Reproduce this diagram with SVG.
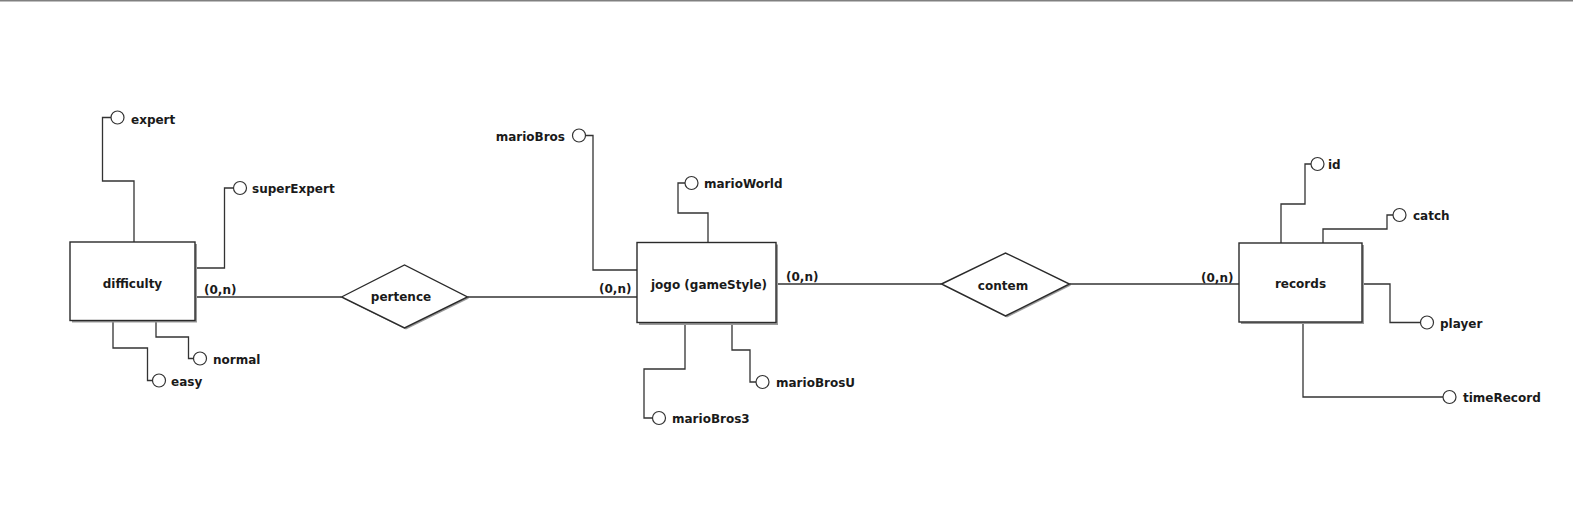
<svg xmlns="http://www.w3.org/2000/svg" width="1573" height="517" viewBox="0 0 1573 517">
<style>
.bg{fill:#ffffff}
.ln{fill:none;stroke:#333333;stroke-width:1.3}
.ent{fill:#ffffff;stroke:#2a2a2a;stroke-width:1.4}
.sh{fill:#9a9a9a}
.att{fill:#ffffff;stroke:#333333;stroke-width:1.2}
text{font-family:"DejaVu Sans","Liberation Sans",sans-serif;font-weight:bold;font-size:12px;fill:#1a1a1a}
.mid{text-anchor:middle}
.end{text-anchor:end}
</style>
<rect class="bg" x="0" y="0" width="1573" height="517"/>
<rect x="0" y="0" width="1573" height="1.5" fill="#808080"/>

<g id="connectors">
  <!-- relationships -->
  <path class="ln" d="M195,297 H341.5"/>
  <path class="ln" d="M467.5,297 H637"/>
  <path class="ln" d="M776,284 H941.5"/>
  <path class="ln" d="M1069.5,284 H1239"/>
  <!-- difficulty attributes -->
  <path class="ln" d="M134,242 V181 H102.5 V117.5 H111"/>
  <path class="ln" d="M195,268 H224.5 V188 H233.5"/>
  <path class="ln" d="M113,320 V348 H147.5 V380.5 H152.5"/>
  <path class="ln" d="M156,320 V337 H188.5 V358.5 H193.5"/>
  <!-- jogo attributes -->
  <path class="ln" d="M637,270 H593 V135.5 H585.5"/>
  <path class="ln" d="M708,242 V213 H678 V183 H685"/>
  <path class="ln" d="M685,322 V369 H644 V418 H652.5"/>
  <path class="ln" d="M732,322 V350 H750 V382 H756"/>
  <!-- records attributes -->
  <path class="ln" d="M1281,243 V204 H1305 V164 H1311"/>
  <path class="ln" d="M1323,243 V229 H1387 V215 H1393"/>
  <path class="ln" d="M1362,284 H1390 V322.5 H1420.5"/>
  <path class="ln" d="M1303,322 V397 H1443"/>
</g>

<g id="difficulty">
  <rect class="sh" x="72" y="244" width="125" height="78.5"/>
  <rect class="ent" x="70" y="242" width="125" height="78.5"/>
  <text class="mid" x="132.5" y="288">difficulty</text>
  <text x="204" y="294">(0,n)</text>
</g>
<g id="attr-expert"><circle class="att" cx="117.5" cy="117.5" r="6.5"/><text x="131" y="123.5">expert</text></g>
<g id="attr-superExpert"><circle class="att" cx="240" cy="188" r="6.5"/><text x="252" y="193">superExpert</text></g>
<g id="attr-easy"><circle class="att" cx="159" cy="380.5" r="6.5"/><text x="171" y="385.5">easy</text></g>
<g id="attr-normal"><circle class="att" cx="200" cy="358.5" r="6.5"/><text x="213" y="363.5">normal</text></g>

<g id="pertence">
  <polygon class="sh" points="343,298.5 406,266.5 469,298.5 406,329.5"/>
  <polygon class="ent" points="341.5,297 404.5,265 467.5,297 404.5,328"/>
  <text class="mid" x="401" y="301">pertence</text>
</g>

<g id="jogo">
  <rect class="sh" x="639" y="244.5" width="139" height="80.5"/>
  <rect class="ent" x="637" y="242.5" width="139" height="80"/>
  <text class="mid" x="709" y="289">jogo (gameStyle)</text>
  <text x="599" y="293">(0,n)</text>
  <text x="786" y="281">(0,n)</text>
</g>
<g id="attr-marioBros"><circle class="att" cx="579" cy="135.5" r="6.5"/><text class="end" x="565" y="140.5">marioBros</text></g>
<g id="attr-marioWorld"><circle class="att" cx="691.5" cy="183" r="6.5"/><text x="704" y="188">marioWorld</text></g>
<g id="attr-marioBros3"><circle class="att" cx="659" cy="418" r="6.5"/><text x="672" y="423">marioBros3</text></g>
<g id="attr-marioBrosU"><circle class="att" cx="762.5" cy="382" r="6.5"/><text x="776" y="387">marioBrosU</text></g>

<g id="contem">
  <polygon class="sh" points="943,285.5 1007,254.5 1071,285.5 1007,317.5"/>
  <polygon class="ent" points="941.5,284 1005.5,253 1069.5,284 1005.5,316"/>
  <text class="mid" x="1003" y="290">contem</text>
</g>

<g id="records">
  <rect class="sh" x="1241" y="245" width="123" height="79"/>
  <rect class="ent" x="1239" y="243" width="123" height="79"/>
  <text class="mid" x="1300.5" y="288">records</text>
  <text x="1201" y="281.5">(0,n)</text>
</g>
<g id="attr-id"><circle class="att" cx="1317.5" cy="164" r="6.5"/><text x="1328" y="169">id</text></g>
<g id="attr-catch"><circle class="att" cx="1399.5" cy="215" r="6.5"/><text x="1413" y="220">catch</text></g>
<g id="attr-player"><circle class="att" cx="1427" cy="322.5" r="6.5"/><text x="1440" y="327.5">player</text></g>
<g id="attr-timeRecord"><circle class="att" cx="1449.5" cy="397" r="6.5"/><text x="1463" y="402">timeRecord</text></g>
</svg>
